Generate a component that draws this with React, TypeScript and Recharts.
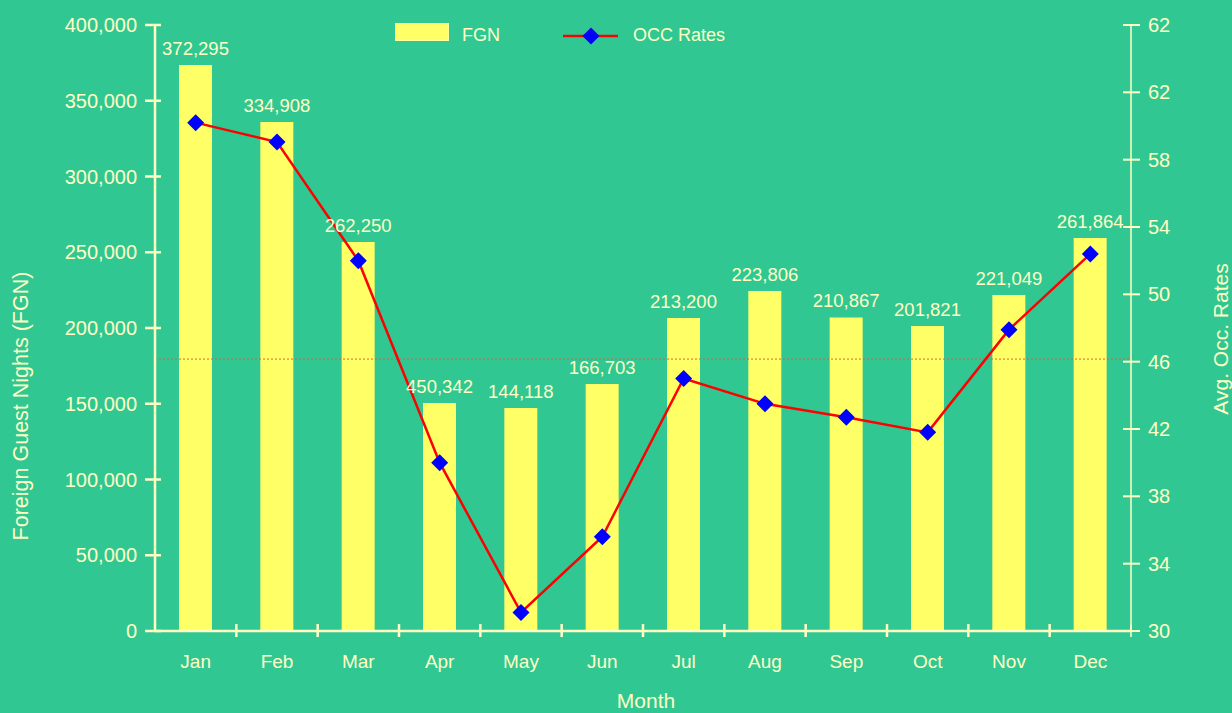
import React from "react";
import {
  ComposedChart,
  Bar,
  Line,
  XAxis,
  YAxis,
  LabelList,
  ReferenceLine,
} from "recharts";

const months = ["Jan", "Feb", "Mar", "Apr", "May", "Jun", "Jul", "Aug", "Sep", "Oct", "Nov", "Dec"];
const fgnValues = [373600, 336000, 256800, 150500, 147200, 163000, 206600, 224400, 207000, 201300, 221800, 259400];
const fgnLabels = ["372,295", "334,908", "262,250", "450,342", "144,118", "166,703", "213,200", "223,806", "210,867", "201,821", "221,049", "261,864"];
const occRates = [60.2, 59.05, 52.0, 40.0, 31.1, 35.6, 45.0, 43.5, 42.7, 41.8, 47.9, 52.4];
const leftTicks = [0, 50000, 100000, 150000, 200000, 250000, 300000, 350000, 400000];
const rightTicks = [30, 34, 38, 42, 46, 50, 54, 58, 62, 66];
const rightTickLabels = ["30", "34", "38", "42", "46", "50", "54", "58", "62", "62"];
const refLineValue = 179500;

const BG = "#31C793";
const INK = "#FFFFC4";
const FONT = "'Liberation Sans', Arial, Helvetica, sans-serif";

const data = months.map((month, i) => ({
  month,
  fgn: fgnValues[i],
  occ: occRates[i],
}));

const LeftTick = (props: any) => {
  const { x, y, payload } = props;
  return (
    <g>
      <line x1={x - 10} x2={x + 6} y1={y} y2={y} stroke={INK} strokeWidth={2.5} />
      <text x={x - 18} y={y + 7} textAnchor="end" fill={INK} fontSize={20} fontFamily={FONT}>
        {Number(payload.value).toLocaleString("en-US")}
      </text>
    </g>
  );
};

const RightTick = (props: any) => {
  const { x, y, payload, index } = props;
  return (
    <g>
      <line x1={x - 8} x2={x + 9} y1={y} y2={y} stroke={INK} strokeWidth={2} />
      <text x={x + 17} y={y + 7} textAnchor="start" fill={INK} fontSize={20} fontFamily={FONT}>
        {rightTickLabels[index] ?? payload.value}
      </text>
    </g>
  );
};

const MonthTick = (props: any) => {
  const { x, y, payload, index } = props;
  const half = payload.offset || 40.7;
  const last = index === months.length - 1;
  return (
    <g>
      {index > 0 && (
        <line x1={x - half} x2={x - half} y1={y - 7} y2={y + 6} stroke={INK} strokeWidth={2.5} />
      )}
      {last && (
        <line x1={x + half} x2={x + half} y1={y - 7} y2={y + 6} stroke={INK} strokeWidth={1.5} />
      )}
      <text x={x} y={y + 37} textAnchor="middle" fill={INK} fontSize={19} fontFamily={FONT}>
        {payload.value}
      </text>
    </g>
  );
};

const BarValueLabel = (props: any) => {
  const { x, y, width, index } = props;
  return (
    <text x={x + width / 2} y={y - 10} textAnchor="middle" fill={INK} fontSize={18.5} fontFamily={FONT}>
      {fgnLabels[index]}
    </text>
  );
};

const Diamond = (props: any) => {
  const { cx, cy } = props;
  if (cx == null || cy == null) return null;
  const r = 8.5;
  return (
    <polygon
      points={`${cx},${cy - r} ${cx + r},${cy} ${cx},${cy + r} ${cx - r},${cy}`}
      fill="#0000FF"
    />
  );
};

const LeftTitle = () => (
  <text
    x={28}
    y={406}
    transform="rotate(-90 28 406)"
    textAnchor="middle"
    fill={INK}
    fontSize={21.5}
    fontFamily={FONT}
  >
    Foreign Guest Nights (FGN)
  </text>
);

const RightTitle = () => (
  <text
    x={1228}
    y={339}
    transform="rotate(-90 1228 339)"
    textAnchor="middle"
    fill={INK}
    fontSize={21}
    fontFamily={FONT}
  >
    Avg. Occ. Rates
  </text>
);

const BottomTitle = () => (
  <text x={646} y={708} textAnchor="middle" fill={INK} fontSize={21} fontFamily={FONT}>
    Month
  </text>
);

function ChartLegend() {
  return (
    <svg
      width={1232}
      height={60}
      style={{ position: "absolute", left: 0, top: 0, pointerEvents: "none" }}
    >
      <rect x={395.5} y={23.5} width={53} height={17} fill="#FFFF66" stroke="#FFFF99" strokeWidth={1} />
      <text x={462} y={41} fill={INK} fontSize={18} fontFamily={FONT}>
        FGN
      </text>
      <line x1={563} x2={618} y1={36} y2={36} stroke="#FF0000" strokeWidth={2.5} />
      <polygon points="591,27.5 599.5,36 591,44.5 582.5,36" fill="#0000FF" />
      <text x={633} y={41} fill={INK} fontSize={18} fontFamily={FONT}>
        OCC Rates
      </text>
    </svg>
  );
}

export default function App() {
  return (
    <div style={{ position: "absolute", left: 0, top: 0, width: 1232, height: 713, background: BG, overflow: "hidden" }}>
      <ComposedChart
        width={1232}
        height={713}
        data={data}
        margin={{ top: 25, right: 0, left: 0, bottom: 0 }}
        style={{ background: BG }}
      >
        <XAxis
          dataKey="month"
          height={82}
          axisLine={{ stroke: INK, strokeWidth: 2.5 }}
          tickLine={false}
          tickSize={0}
          tickMargin={0}
          tick={<MonthTick />}
          interval={0}
          label={<BottomTitle />}
        />
        <YAxis
          yAxisId="left"
          orientation="left"
          width={155}
          domain={[0, 400000]}
          ticks={leftTicks}
          interval={0}
          axisLine={{ stroke: INK, strokeWidth: 2.5 }}
          tickLine={false}
          tickSize={0}
          tickMargin={0}
          tick={<LeftTick />}
          label={<LeftTitle />}
        />
        <YAxis
          yAxisId="right"
          orientation="right"
          width={101}
          domain={[30, 66]}
          ticks={rightTicks}
          interval={0}
          axisLine={{ stroke: INK, strokeWidth: 1.5 }}
          tickLine={false}
          tickSize={0}
          tickMargin={0}
          tick={<RightTick />}
          label={<RightTitle />}
        />
        <ReferenceLine
          yAxisId="left"
          y={refLineValue}
          stroke="#E0603A"
          strokeWidth={1}
          strokeDasharray="2 2"
        />
        <Bar yAxisId="left" dataKey="fgn" fill="#FFFF66" barSize={33} isAnimationActive={false}>
          <LabelList dataKey="fgn" content={<BarValueLabel />} />
        </Bar>
        <Line
          yAxisId="right"
          dataKey="occ"
          type="linear"
          stroke="#FF0000"
          strokeWidth={2.5}
          dot={<Diamond />}
          activeDot={false}
          isAnimationActive={false}
        />
      </ComposedChart>
      <ChartLegend />
    </div>
  );
}
